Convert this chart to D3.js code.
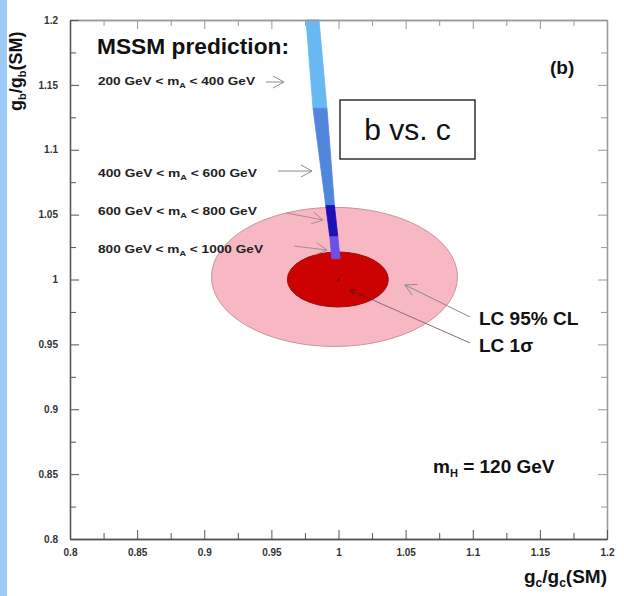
<!DOCTYPE html>
<html><head><meta charset="utf-8">
<script src="https://cdn.jsdelivr.net/npm/d3@7"></script>
<style>
html,body{margin:0;padding:0;background:#fff;}
svg{display:block;font-family:"Liberation Sans",Arial,Helvetica,sans-serif;}
</style></head>
<body>
<svg id="chart" width="624" height="596"></svg>
<script>
// ---- data ----
const xTickValues = [0.8, 0.85, 0.9, 0.95, 1.0, 1.05, 1.1, 1.15, 1.2];
const xTickLabels = ["0.8", "0.85", "0.9", "0.95", "1", "1.05", "1.1", "1.15", "1.2"];
const yTickValues = [0.8, 0.85, 0.9, 0.95, 1.0, 1.05, 1.1, 1.15, 1.2];
const yTickLabels = ["0.8", "0.85", "0.9", "0.95", "1", "1.05", "1.1", "1.15", "1.2"];
const minorTickValues = [0.825, 0.875, 0.925, 0.975, 1.025, 1.075, 1.125, 1.175];

// LC contours (centre x, centre y, half-width x, half-width y) in g/g(SM)
const contourNames = ["LC 95% CL", "LC 1\u03c3"];
const contourCx = [0.997, 0.9995];
const contourCy = [1.002, 1.000];
const contourRx = [0.0916, 0.0376];
const contourRy = [0.0536, 0.0212];

// MSSM prediction band, one segment per m_A range
const massLow = [200, 400, 600, 800];
const massHigh = [400, 600, 800, 1000];
const bandYTop = [1.200, 1.132, 1.057, 1.033];
const bandYBottom = [1.132, 1.057, 1.033, 1.016];
const bandXLeftTop = [0.9758, 0.9810, 0.9905, 0.9935];
const bandXRightTop = [0.9855, 0.9914, 0.9970, 0.9995];
const bandXLeftBottom = [0.9810, 0.9905, 0.9935, 0.9950];
const bandXRightBottom = [0.9914, 0.9970, 0.9995, 1.0012];

// arrows pointing at band segments (start x, start y, tip x, tip y)
const arrowX0 = [0.946, 0.9549, 0.9609, 0.9669];
const arrowY0 = [1.1522, 1.0836, 1.0513, 1.0258];
const arrowX1 = [0.9594, 0.9803, 0.9885, 0.9914];
const arrowY1 = [1.1522, 1.0836, 1.0459, 1.0227];

// arrows from contour labels
const contourArrowX0 = [1.098, 1.098];
const contourArrowY0 = [0.9711, 0.9511];
const contourArrowX1 = [1.0495, 1.0086];
const contourArrowY1 = [0.9958, 0.9919];

// ---- layout / styles ----
const svg = d3.select("#chart");
const L = 70, R = 607, T = 20, B = 539;
const x = d3.scaleLinear().domain([0.8, 1.2]).range([L, R]);
const y = d3.scaleLinear().domain([0.8, 1.2]).range([B, T]);
const bandColors = ["#68b9f1", "#5186dd", "#1c10b6", "#6d50e6"];
const labelBaselines = [85, 177, 215, 253];
const labelWidths = [157, 159, 159, 165];

// left blue stripe
svg.append("rect").attr("x", 0).attr("y", 0).attr("width", 7).attr("height", 596).attr("fill", "#9ccbfa");

// contours
const g = svg.append("g");
g.append("ellipse")
  .attr("cx", x(contourCx[0])).attr("cy", y(contourCy[0]))
  .attr("rx", x(contourCx[0] + contourRx[0]) - x(contourCx[0]))
  .attr("ry", y(contourCy[0]) - y(contourCy[0] + contourRy[0]))
  .attr("fill", "#f8b8c3").attr("stroke", "#c9949c").attr("stroke-width", 1);

svg.append("clipPath").attr("id", "redclip").append("ellipse")
  .attr("cx", x(contourCx[1])).attr("cy", y(contourCy[1]))
  .attr("rx", x(contourCx[1] + contourRx[1]) - x(contourCx[1]))
  .attr("ry", y(contourCy[1]) - y(contourCy[1] + contourRy[1]));

g.append("ellipse")
  .attr("cx", x(contourCx[1])).attr("cy", y(contourCy[1]))
  .attr("rx", x(contourCx[1] + contourRx[1]) - x(contourCx[1]))
  .attr("ry", y(contourCy[1]) - y(contourCy[1] + contourRy[1]))
  .attr("fill", "#cc0202").attr("stroke", "#9a1010").attr("stroke-width", 1);

// arrow helper
function arrow(sel, xa, ya, xb, yb, color, width, head, half) {
  const px0 = x(xa), py0 = y(ya), px1 = x(xb), py1 = y(yb);
  const ang = Math.atan2(py1 - py0, px1 - px0);
  const ca = Math.cos(ang), sa = Math.sin(ang);
  const bx = px1 - head * ca, by = py1 - head * sa;
  const p1 = [bx - half * sa, by + half * ca], p2 = [bx + half * sa, by - half * ca];
  sel.append("line").attr("x1", px0).attr("y1", py0).attr("x2", px1).attr("y2", py1)
    .attr("stroke", color).attr("stroke-width", width);
  sel.append("polyline").attr("points", [p1, [px1, py1], p2].map(p => p.join(",")).join(" "))
    .attr("fill", "none").attr("stroke", color).attr("stroke-width", width);
}

const arrowsG = svg.append("g");
massLow.forEach((m, i) => {
  arrow(arrowsG, arrowX0[i], arrowY0[i], arrowX1[i], arrowY1[i], i >= 2 ? "#b08890" : "#8c8c8c", 1, 11, 6);
});

// contour label arrows
const ca = svg.append("g");
arrow(ca, contourArrowX0[0], contourArrowY0[0], contourArrowX1[0], contourArrowY1[0], "#8a8a8a", 1, 11, 6);
ca.append("line")
  .attr("x1", x(contourArrowX0[1])).attr("y1", y(contourArrowY0[1]))
  .attr("x2", x(contourArrowX1[1])).attr("y2", y(contourArrowY1[1]))
  .attr("stroke", "#8a6a6e").attr("stroke-width", 1);
const inner = svg.append("g").attr("clip-path", "url(#redclip)");
arrow(inner, contourArrowX0[1], contourArrowY0[1], contourArrowX1[1], contourArrowY1[1], "#8a0000", 1.2, 6, 3);
svg.append("circle").attr("cx", x(1.0)).attr("cy", y(1.0)).attr("r", 1.5).attr("fill", "#8a0000");

// MSSM band
const bandG = svg.append("g");
massLow.forEach((m, i) => {
  const pts = [
    [x(bandXLeftTop[i]), y(bandYTop[i])],
    [x(bandXRightTop[i]), y(bandYTop[i])],
    [x(bandXRightBottom[i]), y(bandYBottom[i])],
    [x(bandXLeftBottom[i]), y(bandYBottom[i])]
  ];
  bandG.append("polygon").attr("points", pts.map(p => p.join(",")).join(" "))
    .attr("fill", bandColors[i]).attr("stroke", bandColors[i]).attr("stroke-width", 0.8);
});

// axes
function styleAxis(sel, col, labels) {
  sel.select(".domain").attr("stroke", col).attr("stroke-width", 1.3);
  sel.selectAll(".tick line").attr("stroke", col).attr("stroke-width", 1);
  sel.selectAll(".tick text").attr("font-size", 10).attr("font-weight", "bold").attr("fill", "#333")
    .attr("font-family", "'Liberation Sans',Arial,sans-serif");
  if (!labels) sel.selectAll(".tick text").remove();
}
const fmtX = (d) => xTickLabels[xTickValues.findIndex(v => Math.abs(v - d) < 1e-9)];
const fmtY = (d) => yTickLabels[yTickValues.findIndex(v => Math.abs(v - d) < 1e-9)];

// top & right (light)
svg.append("g").attr("transform", `translate(0,${T})`)
  .call(d3.axisTop(x).tickValues(xTickValues).tickSize(-9).tickSizeOuter(0)).call(s => styleAxis(s, "#9a9a9a", false));
svg.append("g").attr("transform", `translate(0,${T})`)
  .call(d3.axisTop(x).tickValues(minorTickValues).tickSize(-6).tickSizeOuter(0)).call(s => styleAxis(s, "#9a9a9a", false));
svg.append("g").attr("transform", `translate(${R},0)`)
  .call(d3.axisRight(y).tickValues(yTickValues).tickSize(-9).tickSizeOuter(0)).call(s => styleAxis(s, "#9a9a9a", false));
svg.append("g").attr("transform", `translate(${R},0)`)
  .call(d3.axisRight(y).tickValues(minorTickValues).tickSize(-6).tickSizeOuter(0)).call(s => styleAxis(s, "#9a9a9a", false));

// bottom & left
svg.append("g").attr("transform", `translate(0,${B})`)
  .call(d3.axisBottom(x).tickValues(minorTickValues).tickSize(-6).tickSizeOuter(0)).call(s => styleAxis(s, "#555", false));
svg.append("g").attr("transform", `translate(0,${B})`)
  .call(d3.axisBottom(x).tickValues(xTickValues).tickSize(-9).tickSizeOuter(0).tickPadding(10).tickFormat(fmtX))
  .call(s => styleAxis(s, "#555", true));
svg.append("g").attr("transform", `translate(${L},0)`)
  .call(d3.axisLeft(y).tickValues(minorTickValues).tickSize(-6).tickSizeOuter(0)).call(s => styleAxis(s, "#555", false));
svg.append("g").attr("transform", `translate(${L},0)`)
  .call(d3.axisLeft(y).tickValues(yTickValues).tickSize(-9).tickSizeOuter(0).tickPadding(12).tickFormat(fmtY))
  .call(s => styleAxis(s, "#555", true));

// axis titles
const yt = svg.append("text").attr("transform", "translate(22,111) rotate(-90)")
  .attr("text-anchor", "start").attr("font-size", 18).attr("font-weight", "bold").attr("fill", "#111");
yt.append("tspan").text("g");
yt.append("tspan").attr("font-size", 11).attr("dy", 4).text("b");
yt.append("tspan").attr("dy", -4).text("/g");
yt.append("tspan").attr("font-size", 11).attr("dy", 4).text("b");
yt.append("tspan").attr("dy", -4).text("(SM)");

const xt = svg.append("text").attr("x", R).attr("y", 583)
  .attr("text-anchor", "end").attr("font-size", 19).attr("font-weight", "bold").attr("fill", "#111");
xt.append("tspan").text("g");
xt.append("tspan").attr("font-size", 12).attr("dy", 4).text("c");
xt.append("tspan").attr("dy", -4).text("/g");
xt.append("tspan").attr("font-size", 12).attr("dy", 4).text("c");
xt.append("tspan").attr("dy", -4).text("(SM)");

// annotations
svg.append("text").attr("x", 97).attr("y", 54).attr("font-size", 22).attr("font-weight", "bold")
  .attr("fill", "#111").attr("textLength", 192).attr("lengthAdjust", "spacingAndGlyphs").text("MSSM prediction:");
massLow.forEach((m, i) => {
  const t = svg.append("text").attr("x", 98).attr("y", labelBaselines[i]).attr("font-size", 10.5)
    .attr("font-weight", "bold").attr("fill", "#222")
    .attr("textLength", labelWidths[i]).attr("lengthAdjust", "spacingAndGlyphs");
  t.append("tspan").text(`${m} GeV < m`);
  t.append("tspan").attr("font-size", 7).attr("dy", 2.5).text("A");
  t.append("tspan").attr("dy", -2.5).text(` < ${massHigh[i]} GeV`);
});

svg.append("text").attr("x", 550).attr("y", 74).attr("font-size", 19).attr("font-weight", "bold")
  .attr("fill", "#111").text("(b)");

svg.append("rect").attr("x", 340).attr("y", 100).attr("width", 135).attr("height", 59)
  .attr("fill", "#fff").attr("stroke", "#111").attr("stroke-width", 1.3);
svg.append("text").attr("x", 407.5).attr("y", 140).attr("text-anchor", "middle").attr("font-size", 30)
  .attr("fill", "#111").text("b vs. c");

svg.append("text").attr("x", 479).attr("y", 325).attr("font-size", 19).attr("font-weight", "bold")
  .attr("fill", "#111").text(contourNames[0]);
svg.append("text").attr("x", 479).attr("y", 352).attr("font-size", 19).attr("font-weight", "bold")
  .attr("fill", "#111").text(contourNames[1]);

const mh = svg.append("text").attr("x", 433).attr("y", 473).attr("font-size", 19).attr("font-weight", "bold")
  .attr("fill", "#111");
mh.append("tspan").text("m");
mh.append("tspan").attr("font-size", 11).attr("dy", 4).text("H");
mh.append("tspan").attr("dy", -4).text(" = 120 GeV");
</script>
</body></html>
